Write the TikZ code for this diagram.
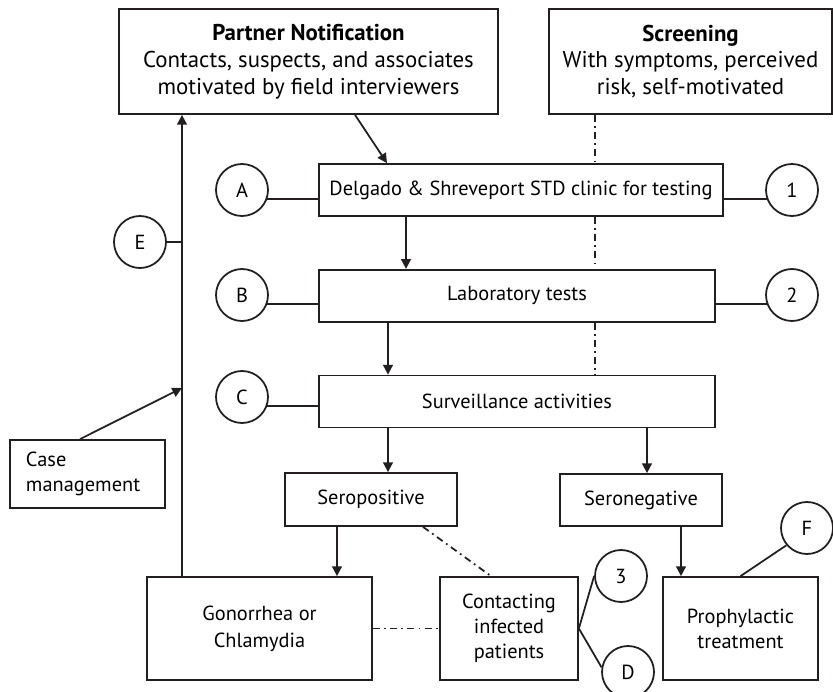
\documentclass[tikz,border=0pt]{standalone}
\usepackage{fontspec}
\setmainfont{PT Sans}
\usepackage{tikz}
\usetikzlibrary{arrows.meta, positioning}
\definecolor{ink}{HTML}{231F20}

\begin{document}
\begin{tikzpicture}[
  box/.style = {rectangle, draw=ink, line width=1pt, minimum height=1.04cm,
                align=center, inner sep=2pt, font=\fontsize{11.6}{14.2}\selectfont},
  bigbox/.style = {box, minimum height=2.1cm, font=\fontsize{13}{15.3}\selectfont},
  circ/.style = {circle, draw=ink, line width=1pt, minimum size=1.04cm, inner sep=0pt,
                 font=\fontsize{11.6}{14.2}\selectfont},
  arr/.style = {-{Triangle[length=5.5pt, width=5.5pt]}, line width=1pt, draw=ink},
  lnk/.style = {line width=1pt, draw=ink},
  dd/.style = {line width=1pt, draw=ink, dash pattern=on 4pt off 2.4pt on 1pt off 2.4pt},
]
  \useasboundingbox (0,0) rectangle (16.66,-13.84);

  % sources
  \node[bigbox, minimum width=7.58cm] (partner) at (6.17,-1.23)
    {\textbf{Partner Notification}\\Contacts, suspects, and associates\\motivated by field interviewers};
  \node[bigbox, minimum width=5.66cm] (screen) at (13.81,-1.23)
    {\textbf{Screening}\\With symptoms, perceived\\risk, self-motivated};

  % main chain
  \node[box, minimum width=8.08cm] (clinic) at (10.42,-3.8) {Delgado \& Shreveport STD clinic for testing};
  \node[box, minimum width=7.92cm, below=1.04cm of clinic.south west, anchor=north west] (lab) {Laboratory tests};
  \node[box, minimum width=7.92cm, below=1.04cm of lab.south west, anchor=north west] (surv) {Surveillance activities};

  \node[box, minimum width=3.44cm, minimum height=1.06cm] (pos) at (7.42,-9.99) {Seropositive};
  \node[box, minimum width=3.24cm] (neg) at (12.82,-10.0) {Seronegative};

  \node[box, minimum width=4.5cm, minimum height=2.06cm, font=\fontsize{11.6}{15.3}\selectfont] (gon) at (5.19,-12.57) {Gonorrhea or\\Chlamydia};
  \node[box, minimum width=2.76cm, minimum height=2.06cm] (cont) at (10.18,-12.57) {Contacting\\infected\\patients};
  \node[box, minimum width=3.1cm, minimum height=2.06cm] (proph) at (14.81,-12.57) {Prophylactic\\treatment};
  \node[box, minimum width=3.1cm, minimum height=1.36cm, align=left, text width=2.46cm] (casem) at (1.75,-9.48) {Case\\management};

  % labels
  \node[circ] (A) at (4.84,-3.8) {A};
  \node[circ] (B) at (4.84,-5.9) {B};
  \node[circ] (C) at (4.84,-7.94) {C};
  \node[circ] (E) at (2.8,-4.84) {E};
  \node[circ] (one) at (15.84,-3.8) {1};
  \node[circ] (two) at (15.84,-5.9) {2};
  \node[circ] (three) at (12.42,-11.52) {3};
  \node[circ] (D) at (12.56,-13.44) {D};
  \node[circ] (F) at (16.14,-10.56) {F};

  \coordinate (hit) at (3.64,-7.76);

  % arrows
  \draw[arr] ([xshift=0.93cm]partner.south) -- ([xshift=-2.68cm]clinic.north);
  \draw[arr] ([xshift=-2.3cm]clinic.south) -- ([xshift=-2.3cm]clinic.south |- lab.north);
  \draw[arr] ([xshift=-2.58cm]lab.south) -- ([xshift=-2.58cm]lab.south |- surv.north);
  \draw[arr] ([xshift=0.34cm]pos.north |- surv.south) -- ([xshift=0.34cm]pos.north);
  \draw[arr] ([xshift=0.12cm]neg.north |- surv.south) -- ([xshift=0.12cm]neg.north);
  \draw[arr] ([xshift=1.55cm]gon.north |- pos.south) -- ([xshift=1.55cm]gon.north);
  \draw[arr] ([xshift=-1.19cm]proph.north |- neg.south) -- ([xshift=-1.19cm]proph.north);
  \draw[arr] (gon.north -| hit) -- (partner.south -| hit);
  \draw[arr] ([xshift=-0.15cm]casem.north) -- (hit);

  % dash-dot links
  \draw[dd] ([xshift=-1.91cm]screen.south) -- ([xshift=-1.91cm]screen.south |- clinic.north);
  \draw[dd] ([xshift=-1.91cm]screen.south |- clinic.south) -- ([xshift=-1.91cm]screen.south |- lab.north);
  \draw[dd] ([xshift=-1.91cm]screen.south |- lab.south) -- ([xshift=-1.91cm]screen.south |- surv.north);
  \draw[dd] ([xshift=1.04cm]pos.south) -- ([xshift=-0.36cm]cont.north);
  \draw[dd] (gon.east) -- (cont.west);

  % label ties
  \draw[lnk] (A.-20) -- (A.-20 -| clinic.west);
  \draw[lnk] (B.-20) -- (B.-20 -| lab.west);
  \draw[lnk] (C.-20) -- (C.-20 -| surv.west);
  \draw[lnk] (one.200) -- (one.200 -| clinic.east);
  \draw[lnk] (two.200) -- (two.200 -| lab.east);
  \draw[lnk] (E.east) -- (E.east -| hit);
  \draw[lnk] (cont.east) -- (three.west);
  \draw[lnk] (cont.east) -- (D.170);
  \draw[lnk] (F.220) -- (proph.north);
\end{tikzpicture}
\end{document}
